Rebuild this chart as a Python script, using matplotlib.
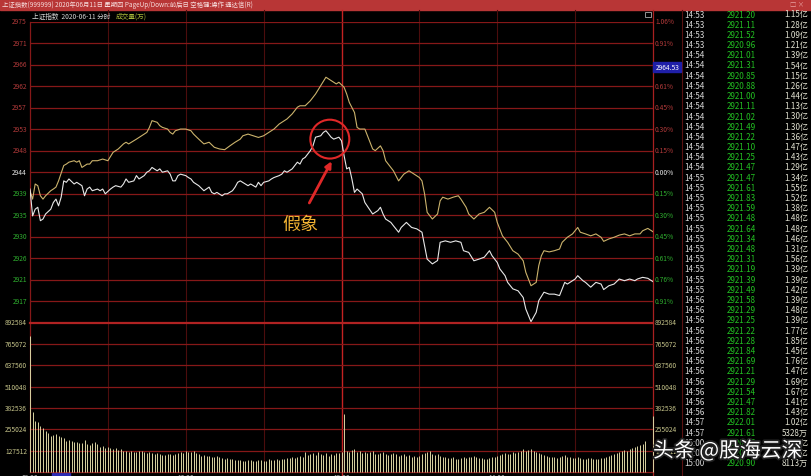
# 上证指数 分时图 (2020-06-11) -- recreated from a screenshot
import matplotlib
matplotlib.use('Agg')
import matplotlib.pyplot as plt
import matplotlib.transforms as mtrans
import matplotlib.patheffects as pe
from matplotlib.patches import Rectangle, Ellipse

plt.rcParams['font.family'] = ['Noto Sans CJK SC', 'DejaVu Sans']

W, H = 812, 477

# ---- data ----
prev_close = 2943.75
level_step = 4.48          # one grid step = 0.152 %
price_labels = ['2975', '2971', '2966', '2962', '2957', '2953', '2948',
                '2944', '2939', '2935', '2930', '2926', '2921', '2917']
pct_labels = ['1.06%', '0.91%', '0.76%', '0.61%', '0.45%', '0.30%', '0.15%',
              '0.00%', '0.15%', '0.30%', '0.45%', '0.61%', '0.76%', '0.91%']
vol_labels = ['892584', '765072', '637560', '510048', '382536', '255024', '127512']
vol_top = 892584
vol_step = 127512
time_labels = ['09:30', '10:30', '13:00', '14:00']
time_label_min = [0, 60, 120, 180]
cursor_price = '2964.53'

# white line: weighted index (minute, price)
white_line = [
    (0, 2940.2), (1, 2934.6), (2, 2936.0), (3, 2936.4), (4, 2933.6), (5, 2933.95),
    (6, 2935.0), (8, 2936.0), (9, 2937.4), (10, 2938.1), (11, 2936.7), (12, 2938.5),
    (13, 2941.9), (14, 2941.6), (15, 2942.3), (17, 2941.25), (18, 2941.6), (20, 2940.9),
    (21, 2938.8), (22, 2940.2), (23, 2940.6), (24, 2939.85), (26, 2940.2), (27, 2939.85),
    (28, 2940.2), (29, 2939.2), (31, 2940.2), (32, 2940.6), (33, 2940.9), (35, 2940.6),
    (36, 2941.25), (37, 2942.3), (38, 2941.6), (40, 2941.9), (41, 2943.0), (42, 2942.3),
    (44, 2943.0), (45, 2943.7), (46, 2944.0), (47, 2944.7), (49, 2944.0), (50, 2944.4),
    (51, 2943.7), (53, 2944.0), (54, 2943.3), (55, 2941.9), (56, 2941.9), (57, 2943.0),
    (58, 2943.3), (60, 2943.0), (61, 2942.6), (62, 2942.3), (63, 2941.6), (65, 2940.9),
    (67, 2939.85), (69, 2940.6), (70, 2939.5), (71, 2939.2), (72, 2939.5), (74, 2938.8),
    (75, 2939.2), (76, 2939.2), (78, 2939.85), (79, 2940.6), (80, 2941.6), (81, 2941.9),
    (83, 2941.25), (84, 2940.9), (85, 2941.25), (87, 2940.6), (88, 2941.6), (89, 2940.9),
    (90, 2941.6), (92, 2941.9), (93, 2942.3), (94, 2942.6), (96, 2943.0), (97, 2943.3),
    (98, 2944.0), (99, 2943.7), (101, 2944.4), (102, 2945.1), (103, 2945.8), (104, 2945.4),
    (105, 2946.45), (106, 2946.8), (108, 2948.2), (109, 2949.2), (110, 2951.0), (112, 2951.3),
    (113, 2952.0), (114, 2952.35), (115, 2951.7), (116, 2951.0), (117, 2950.6), (119, 2951.0),
    (120, 2950.25), (121, 2947.15), (122, 2944.4), (123, 2944.7), (124, 2942.3), (125, 2939.5),
    (126, 2940.2), (128, 2939.2), (129, 2937.4), (132, 2935.0), (134, 2935.7), (135, 2936.4),
    (136, 2935.0), (137, 2933.95), (139, 2933.25), (140, 2932.55), (142, 2931.2), (143, 2932.2),
    (145, 2933.25), (147, 2932.2), (149, 2931.9), (151, 2931.2), (152, 2928.4), (153, 2925.6),
    (155, 2924.6), (157, 2925.3), (158, 2929.1), (160, 2929.4), (162, 2929.1), (164, 2929.4),
    (166, 2929.1), (167, 2927.35), (169, 2927.0), (171, 2925.25), (173, 2925.6), (175, 2926.0),
    (177, 2927.35), (178, 2926.3), (180, 2924.9), (181, 2923.55), (183, 2922.15), (184, 2920.75),
    (186, 2919.4), (188, 2919.0), (190, 2917.6), (191, 2915.2), (193, 2912.55), (195, 2914.5),
    (196, 2916.95), (198, 2918.7), (200, 2918.3), (202, 2918.3), (204, 2918.0), (205, 2919.4),
    (206, 2920.75), (207, 2920.4), (209, 2921.1), (210, 2921.45), (211, 2922.15), (213, 2921.1),
    (214, 2920.75), (216, 2919.75), (218, 2920.75), (220, 2920.4), (221, 2919.25), (223, 2920.05),
    (225, 2920.4), (227, 2921.45), (229, 2921.1), (231, 2921.45), (233, 2921.1), (234, 2921.45),
    (236, 2921.8), (238, 2921.6), (240, 2920.9),
]

# yellow line: unweighted (leading) index (minute, price)
yellow_line = [
    (0, 2939.85), (1, 2938.1), (2, 2941.25), (3, 2940.9), (4, 2938.8), (5, 2938.1),
    (6, 2938.8), (8, 2939.85), (9, 2940.2), (10, 2940.6), (11, 2941.9), (13, 2945.1),
    (14, 2945.4), (15, 2945.8), (17, 2946.1), (18, 2945.8), (19, 2946.1), (20, 2944.7),
    (22, 2945.4), (23, 2945.4), (24, 2946.1), (26, 2946.1), (28, 2946.45), (30, 2946.1),
    (32, 2947.85), (34, 2948.55), (36, 2949.6), (37, 2949.95), (38, 2949.6), (40, 2950.25),
    (41, 2950.6), (43, 2951.3), (45, 2952.0), (46, 2953.05), (47, 2954.45), (49, 2954.1),
    (50, 2953.4), (51, 2953.05), (53, 2952.7), (54, 2952.0), (55, 2951.65), (56, 2952.35),
    (58, 2952.7), (60, 2952.7), (62, 2952.35), (63, 2951.65), (65, 2950.6), (67, 2949.6),
    (69, 2949.95), (71, 2948.9), (73, 2948.55), (75, 2948.4), (77, 2949.2), (79, 2949.95),
    (81, 2950.6), (82, 2951.3), (84, 2951.65), (86, 2951.3), (88, 2950.95), (90, 2951.3),
    (92, 2952.0), (94, 2952.7), (96, 2953.75), (97, 2954.1), (99, 2954.8), (101, 2955.85),
    (103, 2957.25), (104, 2957.55), (106, 2957.55), (108, 2958.6), (110, 2960.0), (112, 2961.75),
    (114, 2963.5), (116, 2962.8), (118, 2962.1), (119, 2962.45), (121, 2961.4), (122, 2960.0),
    (123, 2958.25), (125, 2956.15), (126, 2953.05), (127, 2952.7), (129, 2952.7), (132, 2948.55),
    (133, 2948.2), (135, 2949.2), (136, 2948.2), (137, 2946.1), (139, 2944.7), (140, 2944.0),
    (142, 2941.9), (144, 2943.3), (146, 2944.0), (148, 2943.3), (150, 2942.6), (151, 2941.9),
    (152, 2939.2), (153, 2935.35), (155, 2933.95), (157, 2935.0), (158, 2937.75), (159, 2938.5),
    (161, 2938.1), (163, 2938.5), (165, 2938.8), (166, 2938.1), (168, 2936.4), (169, 2935.0),
    (171, 2933.95), (173, 2935.0), (175, 2935.35), (177, 2936.4), (179, 2935.35), (180, 2933.25),
    (182, 2930.45), (184, 2929.1), (186, 2927.35), (188, 2926.65), (190, 2925.25), (191, 2922.85),
    (193, 2920.05), (195, 2920.75), (196, 2924.25), (197, 2926.3), (198, 2927.35), (200, 2927.1),
    (202, 2927.35), (204, 2927.7), (205, 2929.1), (207, 2930.15), (209, 2930.85), (211, 2932.2),
    (212, 2931.2), (214, 2930.85), (216, 2930.45), (218, 2930.85), (220, 2930.15), (221, 2929.3),
    (223, 2929.8), (225, 2930.15), (227, 2930.6), (229, 2930.85), (231, 2930.45), (233, 2930.85),
    (235, 2930.85), (236, 2931.5), (238, 2932.0), (240, 2931.3),
]

# minute volume, in thousands (minute 0 .. 240)
volume_k = [
    813, 356, 306, 298, 276, 261, 247, 233, 217, 220,
    225, 217, 207, 203, 183, 193, 187, 177, 180, 171,
    175, 190, 168, 160, 172, 178, 165, 150, 158, 146,
    150, 142, 138, 145, 134, 137, 128, 124, 120, 126,
    122, 118, 125, 128, 121, 115, 119, 112, 108, 114,
    110, 104, 101, 106, 110, 103, 108, 114, 118, 112,
    127, 120, 118, 124, 115, 106, 97, 100, 95, 98,
    92, 90, 94, 88, 85, 80, 84, 78, 75, 72,
    70, 74, 68, 67, 72, 70, 65, 68, 72, 70,
    66, 68, 75, 70, 72, 78, 74, 80, 76, 85,
    82, 88, 84, 90, 95, 92, 121, 100, 108, 115,
    102, 118, 110, 104, 112, 98, 108, 100, 112, 115,
    118,
    346, 125, 118, 130, 137, 122, 128, 115, 120, 112,
    118, 125, 110, 105, 112, 120, 108, 102, 110, 115,
    105, 98, 102, 108, 95, 100, 92, 96, 90, 98,
    105, 112, 118, 125, 110, 102, 108, 95, 90, 88,
    85, 82, 88, 80, 78, 84, 90, 86, 92, 88,
    95, 90, 85, 82, 80, 78, 85, 88, 92, 98,
    102, 108, 112, 105, 110, 118, 115, 122, 128, 135,
    125, 130, 135, 128, 120, 112, 105, 100, 95, 92,
    92, 88, 85, 90, 95, 100, 92, 88, 85, 82,
    88, 85, 80, 78, 82, 85, 80, 78, 76, 82,
    85, 90, 95, 100, 108, 115, 120, 125, 130, 128,
    140, 145, 150, 155, 160, 170, 187, 0, 0, 336,
]

# tick list on the right
tick_time = ['14:53'] * 4 + ['14:54'] * 12 + ['14:55'] * 12 + ['14:56'] * 12 + \
            ['14:57'] * 2 + ['15:00'] * 3
tick_price = ['2921.20', '2921.11', '2921.52', '2920.96', '2921.01', '2921.31', '2920.85',
              '2920.88', '2921.00', '2921.11', '2921.02', '2921.49', '2921.22', '2921.10',
              '2921.25', '2921.47', '2921.47', '2921.61', '2921.83', '2921.59', '2921.48',
              '2921.64', '2921.34', '2921.48', '2921.31', '2921.19', '2921.39', '2921.49',
              '2921.58', '2921.29', '2921.25', '2921.22', '2921.28', '2921.84', '2921.69',
              '2921.21', '2921.29', '2921.54', '2921.47', '2921.82', '2922.01', '2921.61',
              '2920.96', '2920.93', '2920.90']
tick_vol = ['1.15亿', '1.28亿', '1.09亿', '1.21亿', '1.39亿', '1.54亿', '1.15亿', '1.26亿',
            '1.44亿', '1.13亿', '1.30亿', '1.30亿', '1.36亿', '1.47亿', '1.43亿', '1.29亿',
            '1.34亿', '1.55亿', '1.52亿', '1.38亿', '1.48亿', '1.48亿', '1.46亿', '1.31亿',
            '1.56亿', '1.39亿', '1.39亿', '1.42亿', '1.39亿', '1.48亿', '1.39亿', '1.77亿',
            '1.85亿', '1.45亿', '1.76亿', '1.47亿', '1.69亿', '1.67亿', '1.41亿', '1.43亿',
            '1.02亿', '5328万', '1.93亿', '2.05亿', '8113万']

# ---- colours ----
BG = 'black'
GRID = '#861818'
GRID_DIM = '#4c0d0d'
RED_TXT = '#b23a3a'
GREEN_TXT = '#2fae2f'
WHITE_TXT = '#e4e4e4'
VOL_TXT = '#c6c48a'

fig = plt.figure(figsize=(W / 100, H / 100), dpi=100, facecolor=BG)


def rect(x0, y0, x1, y1):
    return [x0 / W, 1 - y1 / H, (x1 - x0) / W, (y1 - y0) / H]


bg = fig.add_axes([0, 0, 1, 1])
bg.set_xlim(0, W)
bg.set_ylim(H, 0)
bg.axis('off')
bg.set_facecolor(BG)

axp = fig.add_axes(rect(30, 22.5, 653, 323.5))
axv = fig.add_axes(rect(30, 323.5, 653, 473))
for a in (axp, axv):
    a.set_xlim(0, 240)
    a.patch.set_alpha(0)
    a.axis('off')
axp.set_ylim(prev_close - 7 * level_step, prev_close + 7 * level_step)
axv.set_ylim(0, vol_top)

levels = [prev_close + k * level_step for k in range(7, -7, -1)]
vlevels = [vol_top - i * vol_step for i in range(len(vol_labels))]

# title bar
bg.add_patch(Rectangle((0, 0), W, 10.5, color='#b83636', zorder=1))
bg.text(2, 5.3, '上证指数(999999) 2020年06月11日 星期四 PageUp/Down:前后日 空格键:操作 通达信(R)',
        fontsize=4.6, color='#f6dcdc', va='center', ha='left', zorder=2)
bg.text(804, 5.3, '□ ×', fontsize=4.6, color='#e8a0a0', va='center', ha='right', zorder=2)

# header
bg.text(32, 16.5, '上证指数  2020-06-11 分时', fontsize=4.8, color='#d6d6d6', va='center')
bg.text(116, 16.5, '成交量(万)', fontsize=4.8, color='#a9b83a', va='center')
bg.add_patch(Rectangle((645, 12.5), 6, 5, fill=False, ec='#aaaaaa', lw=0.6))

# frame lines
bg.plot([30, 30], [22.5, 473], color=GRID, lw=0.9)
bg.plot([653, 653], [10.5, 477], color='#a82020', lw=0.9)
bg.plot([682, 682], [10.5, 477], color='#5a1111', lw=0.8)

# vertical half-hour grid
tv = mtrans.blended_transform_factory(axp.transData, bg.transData)
for m in [30, 60, 90, 150, 180, 210]:
    bg.plot([m, m], [11, 473], transform=tv, color=GRID_DIM, lw=0.8)
bg.plot([120, 120], [11, 477], transform=tv, color='#c42222', lw=1.0)

# horizontal price grid + labels
tl = mtrans.blended_transform_factory(bg.transData, axp.transData)
for i, lv in enumerate(levels):
    axp.axhline(lv, color=GRID, lw=0.9, zorder=1)
    if i < 7:
        col = RED_TXT
    elif i == 7:
        col = WHITE_TXT
    else:
        col = GREEN_TXT
    bg.text(27, lv, price_labels[i], transform=tl, ha='right', va='center',
            fontsize=4.8, color=col)
    bg.text(655, lv, pct_labels[i], transform=tl, ha='left', va='center',
            fontsize=4.8, color=col)

# cursor price box on the right scale
bg.add_patch(Rectangle((653.5, levels[2] - 0.0), 28, 1, transform=tl, alpha=0))
bg.add_patch(Rectangle((653.5, 62.5), 28, 10.5, color='#1f1fa8', zorder=5))
bg.text(667.5, 67.8, cursor_price, fontsize=4.8, color='white', ha='center',
        va='center', zorder=6)

# volume grid + labels
tlv = mtrans.blended_transform_factory(bg.transData, axv.transData)
for i, lv in enumerate(vlevels):
    axv.axhline(lv, color='#b02222' if i == 0 else GRID, lw=1.6 if i == 0 else 0.9,
                zorder=1, clip_on=False)
    bg.text(27, lv, vol_labels[i], transform=tlv, ha='right', va='center',
            fontsize=4.8, color=VOL_TXT)
    bg.text(655, lv, vol_labels[i], transform=tlv, ha='left', va='center',
            fontsize=4.8, color=VOL_TXT)
axv.axhline(0, color=GRID, lw=0.9, clip_on=False)

# lines
wm, wp = zip(*white_line)
ym, yp = zip(*yellow_line)
axp.plot(ym, yp, color='#cbb36c', lw=0.8, zorder=3)
axp.plot(wm, wp, color='#e8e8e8', lw=0.8, zorder=3)

# volume bars
minutes = list(range(len(volume_k)))
axv.vlines(minutes, 0, [v * 1000 for v in volume_k], color='#d9d3a2', lw=0.7,
           zorder=2, clip_on=False)

# annotation: circle, arrow and label
axp.add_patch(Ellipse((115.5, 2950.6), 15, 8.1, fill=False, ec='#e02828', lw=1.5, zorder=6))
axp.annotate('', xy=(116.2, 2946.0), xytext=(107.6, 2937.3),
             arrowprops=dict(arrowstyle='-|>', color='#e02828', lw=2.0,
                             mutation_scale=9, shrinkA=0, shrinkB=0), zorder=6)
axp.text(104, 2932.9, '假象', color='#f0b232', fontsize=13, ha='center', va='center', zorder=6)

# bottom time labels (mostly cut off by the frame edge)
for m, lab in zip(time_label_min, time_labels):
    bg.text(m, 474.5, lab, transform=tv, ha='center', va='top', fontsize=4.8, color='#bdbdbd')
bg.add_patch(Rectangle((52, 473.8), 18, 4, color='#2a2ab4', zorder=4))

# tick list
for i in range(len(tick_time)):
    y = 15 + i * 10.2
    bg.text(684, y, tick_time[i], fontsize=5.8, color='#d8d8d8', ha='left', va='center')
    bg.text(756, y, tick_price[i], fontsize=5.8, color='#22c022', ha='right', va='center')
    bg.text(808, y, tick_vol[i], fontsize=5.8, color='#e2e2d2', ha='right', va='center')

# watermark
top = fig.add_axes([0, 0, 1, 1])
top.set_xlim(0, W)
top.set_ylim(H, 0)
top.axis('off')
top.patch.set_alpha(0)
top.text(653, 452, '头条 @股海云深', fontsize=15, color='white', ha='left', va='center',
         path_effects=[pe.withStroke(linewidth=2.5, foreground='#222222')])

fig.savefig('out.png', dpi=100, facecolor=BG)
